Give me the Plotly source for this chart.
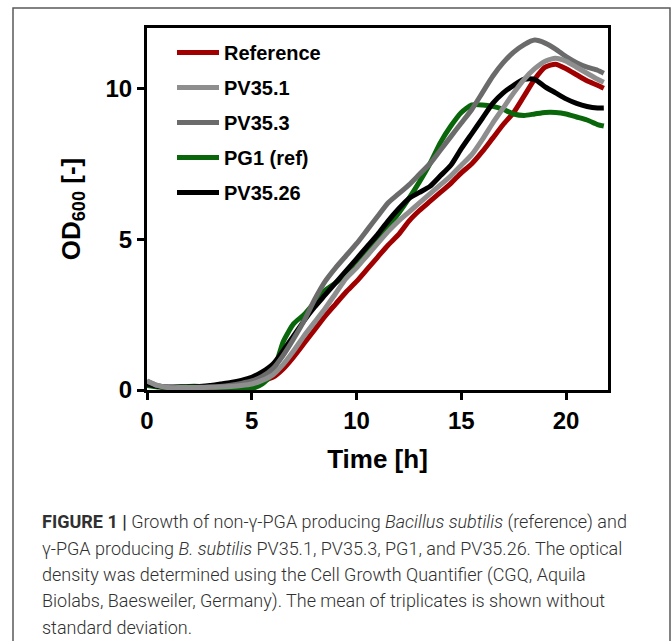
import plotly.graph_objects as go

# ---- data ----
time_h = [0, 0.5, 1, 1.5, 2, 2.5, 3, 3.5, 4, 4.5, 5, 5.5, 6, 6.5, 7, 7.5, 8, 8.5, 9, 9.5,
          10, 10.5, 11, 11.5, 12, 12.5, 13, 13.5, 14, 14.5, 15, 15.5, 16, 16.5, 17, 17.5,
          18, 18.5, 19, 19.5, 20, 20.5, 21, 21.5, 21.8]

reference = [0.2, 0.12, 0.08, 0.08, 0.08, 0.08, 0.08, 0.1, 0.12, 0.15, 0.2, 0.3, 0.42, 0.7, 1.1, 1.55,
             2.0, 2.45, 2.85, 3.25, 3.6, 4.0, 4.4, 4.8, 5.15, 5.6, 5.95, 6.25, 6.55, 6.85, 7.2, 7.5,
             7.9, 8.35, 8.8, 9.2, 9.75, 10.3, 10.7, 10.8, 10.65, 10.45, 10.25, 10.1, 10.0]

pv35_1 = [0.3, 0.15, 0.08, 0.08, 0.08, 0.08, 0.09, 0.1, 0.12, 0.15, 0.2, 0.32, 0.5, 0.85, 1.3, 1.8,
          2.25, 2.7, 3.2, 3.7, 4.05, 4.45, 4.85, 5.25, 5.6, 5.9, 6.2, 6.5, 6.8, 7.1, 7.45, 7.8,
          8.3, 8.85, 9.35, 9.85, 10.3, 10.65, 10.9, 11.0, 10.9, 10.7, 10.5, 10.3, 10.2]

pv35_3 = [0.3, 0.15, 0.08, 0.08, 0.08, 0.09, 0.1, 0.12, 0.16, 0.22, 0.3, 0.45, 0.7, 1.15, 1.7, 2.3,
          3.0, 3.6, 4.05, 4.45, 4.85, 5.3, 5.75, 6.2, 6.5, 6.8, 7.15, 7.5, 7.95, 8.4, 8.85, 9.3,
          9.85, 10.4, 10.85, 11.2, 11.45, 11.6, 11.5, 11.3, 11.05, 10.85, 10.7, 10.6, 10.5]

pg1 = [0.15, 0.1, 0.08, 0.1, 0.12, 0.12, 0.1, 0.08, 0.05, 0.02, 0.05, 0.2, 0.55, 1.6, 2.2, 2.5,
       2.9, 3.3, 3.55, 3.85, 4.2, 4.6, 5.0, 5.4, 5.85, 6.35, 6.9, 7.5, 8.2, 8.75, 9.2, 9.45,
       9.45, 9.4, 9.3, 9.15, 9.1, 9.15, 9.2, 9.2, 9.15, 9.05, 8.95, 8.8, 8.75]

pv35_26 = [0.2, 0.12, 0.1, 0.1, 0.1, 0.12, 0.15, 0.2, 0.25, 0.32, 0.42, 0.6, 0.85, 1.3, 1.8, 2.3,
           2.75, 3.15, 3.55, 3.95, 4.35, 4.75, 5.15, 5.6, 6.0, 6.35, 6.55, 6.75, 7.1, 7.45, 8.0, 8.5,
           9.0, 9.5, 9.85, 10.1, 10.3, 10.3, 10.05, 9.85, 9.65, 9.5, 9.4, 9.35, 9.35]

series_names = ["Reference", "PV35.1", "PV35.3", "PG1 (ref)", "PV35.26"]
series_values = [reference, pv35_1, pv35_3, pg1, pv35_26]
series_colors = ["#a00000", "#8e8e8e", "#6b6b6b", "#0a660a", "#000000"]
draw_order = [0, 3, 4, 2, 1]  # grey curves drawn on top

x_ticks = [0, 5, 10, 15, 20]
y_ticks = [0, 5, 10]

caption_lines = [
    "<b>FIGURE 1 |</b> Growth of non-γ-PGA producing <i>Bacillus subtilis</i> (reference) and",
    "γ-PGA producing <i>B. subtilis</i> PV35.1, PV35.3, PG1, and PV35.26. The optical",
    "density was determined using the Cell Growth Quantifier (CGQ, Aquila",
    "Biolabs, Baesweiler, Germany). The mean of triplicates is shown without",
    "standard deviation.",
]

# ---- layout geometry (pixels) ----
W, H = 672, 641
L, R, T, B = 147, 608, 28, 390
pw, ph = R - L, B - T


def px_x(px):
    return (px - L) / pw


def px_y(py):
    return (B - py) / ph


FONT = "Liberation Sans, Arial, sans-serif"

fig = go.Figure()
for i in draw_order:
    fig.add_trace(go.Scatter(
        x=time_h, y=series_values[i], mode="lines", name=series_names[i],
        line=dict(color=series_colors[i], width=5, shape="spline", smoothing=0.6),
        legendrank=i + 1, legendgroup=series_names[i],
    ))

fig.update_layout(
    width=W, height=H,
    margin=dict(l=L, r=W - R, t=T, b=H - B, autoexpand=False),
    paper_bgcolor="white", plot_bgcolor="white",
    showlegend=True,
    legend=dict(
        x=px_x(172), y=px_y(33), xanchor="left", yanchor="top",
        font=dict(family=FONT, size=20, color="black", weight="bold"),
        bgcolor="rgba(0,0,0,0)", itemwidth=42, tracegroupgap=6,
    ),
    xaxis=dict(
        range=[0, 22], tickvals=x_ticks, showgrid=False, zeroline=False,
        showline=True, linewidth=3, linecolor="black", mirror=True,
        ticks="outside", ticklen=7, tickwidth=3, tickcolor="black",
        tickfont=dict(family=FONT, size=24, color="black", weight="bold"),
        title=dict(text="<b>Time [h]</b>", standoff=18,
                   font=dict(family=FONT, size=26, color="black")),
    ),
    yaxis=dict(
        range=[0, 12.0], tickvals=y_ticks, showgrid=False, zeroline=False,
        showline=True, linewidth=3, linecolor="black", mirror=True,
        ticks="outside", ticklen=7, tickwidth=3, tickcolor="black",
        tickfont=dict(family=FONT, size=24, color="black", weight="bold"),
        title=dict(text="<b>OD<sub>600</sub> [-]</b>", standoff=18,
                   font=dict(family=FONT, size=26, color="black")),
    ),
)

# outer frame of the figure panel
fig.add_shape(type="rect", xref="paper", yref="paper",
              x0=px_x(13), x1=px_x(670), y0=px_y(660), y1=px_y(8),
              line=dict(color="#5a5a5a", width=1.5), fillcolor="rgba(0,0,0,0)", layer="below")

cap_y = [522, 548, 575, 601, 627]
for txt, yy in zip(caption_lines, cap_y):
    fig.add_annotation(text=txt, xref="paper", yref="paper", x=px_x(40), y=px_y(yy),
                       xanchor="left", yanchor="middle", showarrow=False,
                       font=dict(family="Roboto, Arial, sans-serif", weight=300,
                                 size=18, color="#303030"))

fig.write_html("out.html")
